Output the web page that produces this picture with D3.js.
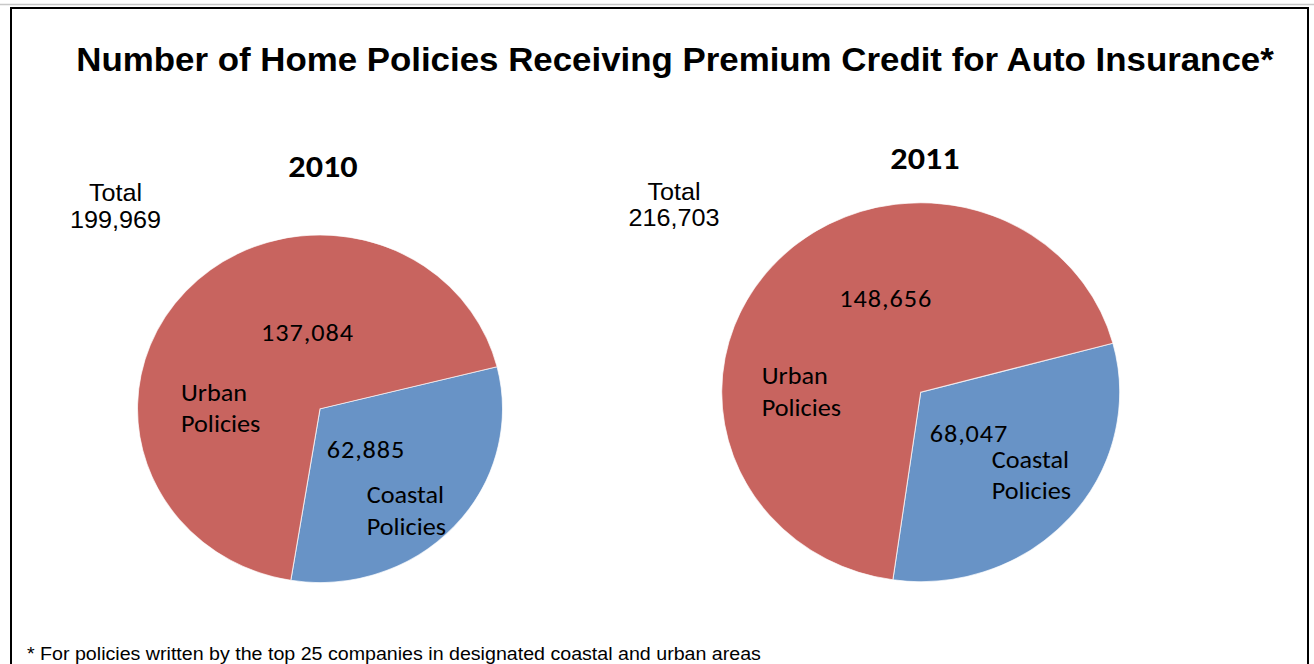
<!DOCTYPE html>
<html>
<head>
<meta charset="utf-8">
<script src="https://cdn.jsdelivr.net/npm/d3@7"></script>
<style>
  html, body { margin: 0; padding: 0; background: #ffffff; }
  svg { display: block; }
</style>
</head>
<body>
<svg id="chart" width="1314" height="664"></svg>
<script>
// Policy counts by year
const years = ["2010", "2011"];
const categories = ["Coastal", "Urban"];
const coastalValues = [62885, 68047];
const urbanValues = [137084, 148656];
const totals = [199969, 216703];

const titleText = "Number of Home Policies Receiving Premium Credit for Auto Insurance*";
const footnoteText = "* For policies written by the top 25 companies in designated coastal and urban areas";

// Layout
const W = 1314, H = 664;
const SX = 1.05; // horizontal stretch applied to pies and text
const colors = { Coastal: "#6893C6", Urban: "#C8645F" };
const pies = [
  { cx: 320, cy: 408.8, r: 173.8, start: 76,
    total: { x: 115.5, y1: 201, y2: 228 },
    year: { x: 323, y: 177 },
    value: { Urban: [307.5, 340.7], Coastal: [366, 457.7] },
    name: { Urban: [181, 401, 431.7], Coastal: [366.7, 503.3, 535] } },
  { cx: 920.7, cy: 392.2, r: 189.5, start: 75,
    total: { x: 674, y1: 200, y2: 226.5 },
    year: { x: 925, y: 169 },
    value: { Urban: [885.8, 306.7], Coastal: [969, 442.3] },
    name: { Urban: [761.7, 384.3, 415.7], Coastal: [991.7, 468.3, 499.3] } }
];

const svg = d3.select("#chart");
svg.append("rect").attr("width", W).attr("height", H).attr("fill", "#ffffff");

// frame
svg.append("line").attr("x1", 0).attr("x2", W).attr("y1", 4.5).attr("y2", 4.5)
  .attr("stroke", "#c8c8c8").attr("stroke-width", 1.5);
svg.append("rect").attr("x", 11).attr("y", 8).attr("width", 1297).attr("height", 700)
  .attr("fill", "none").attr("stroke", "#000000").attr("stroke-width", 2);

const fmt = d3.format(",");
const labelFont = "Carlito, Lato, 'Open Sans', sans-serif";
const arialFont = "'Liberation Sans', Arial, sans-serif";

function stretchedText(parent, x, y, str, opts) {
  const t = parent.append("text")
    .attr("transform", `translate(${x},${y}) scale(${opts.sx || SX},1)`)
    .attr("text-anchor", opts.anchor || "start")
    .attr("font-family", opts.family)
    .attr("font-size", opts.size)
    .attr("font-weight", opts.weight || "normal")
    .attr("fill", "#000000");
  if (opts.spacing) t.attr("letter-spacing", opts.spacing);
  if (Array.isArray(str)) {
    // stacked lines: [text, dy] pairs in one text element
    str.forEach(([s, dy], k) => {
      t.append("tspan").attr("x", 0).attr("y", k === 0 ? 0 : dy).text(s);
    });
  } else {
    t.text(str);
  }
  return t;
}

// title
stretchedText(svg, 675, 70.7, titleText, { anchor: "middle", family: arialFont, size: 33.2, weight: "bold" });

years.forEach((yr, i) => {
  const p = pies[i];
  const data = [
    { key: "Coastal", value: coastalValues[i] },
    { key: "Urban", value: urbanValues[i] }
  ];
  const startRad = p.start * Math.PI / 180;
  const pie = d3.pie().sort(null).value(d => d.value)
    .startAngle(startRad).endAngle(startRad + 2 * Math.PI);
  const arc = d3.arc().innerRadius(0).outerRadius(p.r);

  const g = svg.append("g").attr("transform", `translate(${p.cx},${p.cy}) scale(${SX},1)`);
  g.selectAll("path").data(pie(data)).join("path")
    .attr("d", arc)
    .attr("fill", d => colors[d.data.key])
    .attr("stroke", "#ffffff")
    .attr("stroke-width", 1)
    .attr("stroke-opacity", 0.7);

  // year heading
  stretchedText(svg, p.year.x, p.year.y, yr,
    { anchor: "middle", family: labelFont, size: 30, weight: "bold", sx: 1.14 });

  // total
  stretchedText(svg, p.total.x, p.total.y1,
    [["Total", 0], [fmt(totals[i]), p.total.y2 - p.total.y1]],
    { anchor: "middle", family: arialFont, size: 24 });

  // slice values and names
  data.forEach(d => {
    const v = p.value[d.key];
    stretchedText(svg, v[0], v[1], fmt(d.value),
      { anchor: "middle", family: labelFont, size: 25, spacing: 0.9 });
    const n = p.name[d.key];
    stretchedText(svg, n[0], n[1], [[d.key, 0], ["Policies", n[2] - n[1]]],
      { family: labelFont, size: 25 });
  });
});

// footnote
stretchedText(svg, 27, 659.5, footnoteText, { family: arialFont, size: 18.7 });
</script>
</body>
</html>
